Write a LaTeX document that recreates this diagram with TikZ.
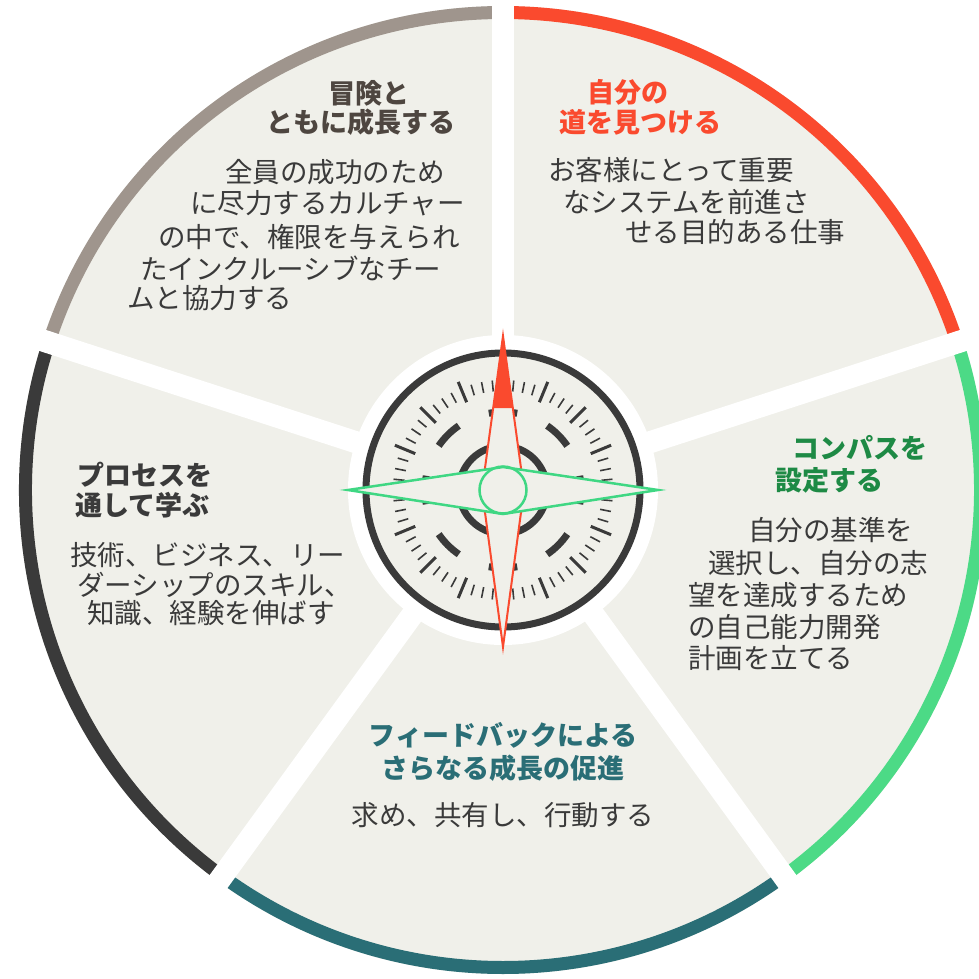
\documentclass[tikz,border=0pt]{standalone}
\usepackage{fontspec}
\setmainfont{Noto Sans CJK JP}
\usepackage{tikz}
\usetikzlibrary{positioning}

\definecolor{paper}{HTML}{F0F0EA}
\definecolor{ink}{HTML}{3A3A3A}
\definecolor{segred}{HTML}{FA4A2E}
\definecolor{seggreen}{HTML}{4CDA86}
\definecolor{segteal}{HTML}{2A6E76}
\definecolor{segdark}{HTML}{3A3A3A}
\definecolor{seggrey}{HTML}{9F958D}
\definecolor{titlegreen}{HTML}{1E8A45}
\definecolor{titlegrey}{HTML}{4E4640}
\definecolor{needlegreen}{HTML}{3FD783}

\begin{document}
\begin{tikzpicture}[x=1pt,y=1pt,
	band/.style={line width=13pt},
	gap/.style={white, line width=22pt},
	heading/.style={anchor=west, inner sep=0pt, font=\fontsize{27}{30}\selectfont\bfseries},
	body/.style={anchor=west, inner sep=0pt, text=ink, font=\fontsize{27.5}{31}\selectfont},
	minortick/.style={ink, line width=1.6pt},
	majortick/.style={ink, line width=3pt},
	dialdash/.style={ink, line width=7pt}]
	\useasboundingbox (-503,-488) rectangle (476,490);

	% wheel with coloured rims
	\fill[paper] (0,0) circle (484);
	\draw[band, segred] (18:477.5) arc[start angle=18, end angle=90, radius=477.5];
	\draw[band, seggreen] (-54:477.5) arc[start angle=-54, end angle=18, radius=477.5];
	\draw[band, segteal] (-126:477.5) arc[start angle=-126, end angle=-54, radius=477.5];
	\draw[band, segdark] (162:477.5) arc[start angle=162, end angle=234, radius=477.5];
	\draw[band, seggrey] (90:477.5) arc[start angle=90, end angle=162, radius=477.5];
	\foreach \a in {90,18,-54,-126,162}
		\draw[gap] (0,0) -- (\a:500);
	\fill[white] (0,0) circle (155);

	% compass dial
	\filldraw[fill=paper, draw=ink, line width=7pt] (0,0) circle (137);
	\foreach \i in {0,...,63}{
		\pgfmathtruncatemacro\m{mod(\i,4)}
		\ifnum\m=0
			\draw[majortick] ({\i*5.625}:95) -- ({\i*5.625}:117);
		\else
			\draw[minortick] ({\i*5.625}:99) -- ({\i*5.625}:110);
		\fi
	}
	\foreach \a in {0,45,...,315}
		\draw[dialdash] ({\a-10.5}:78) arc[start angle=\a-10.5, end angle=\a+10.5, radius=78];
	\draw[ink, line width=7pt] (0,0) circle (44);

	% needles
	\filldraw[fill=paper, draw=segred, line width=2pt] (0,154) -- (21,0) -- (0,-157) -- (-21,0) -- cycle;
	\fill[segred] (0,154) -- (10,82) -- (-10,82) -- cycle;
	\filldraw[fill=paper, draw=needlegreen, line width=2.5pt] (-155,0) -- (0,23) -- (155,0) -- (0,-24) -- cycle;
	\draw[needlegreen, line width=2.5pt] (0,0) circle (23.5);

	% top left
	\node[heading, text=titlegrey] (adv1) at (-175,397) {冒険と};
	\node[heading, text=titlegrey] (adv2) at (-237,368) {ともに成長する};
	\foreach \x/\y/\t [count=\i] in {-278/318/全員の成功のため, -313/287/に尽力するカルチャー,
			-345/253/の中で、権限を与えられ, -363/222/たインクルーシブなチー, -376/192/ムと協力する}
		\node[body] (advtext\i) at (\x,\y) {\t};

	% top right
	\node[heading, text=segred] (path1) at (84,398) {自分の};
	\node[heading, text=segred] (path2) at (56,368) {道を見つける};
	\foreach \x/\y/\t [count=\i] in {45/320/お客様にとって重要, 60/288/なシステムを前進さ,
			122/258/せる目的ある仕事}
		\node[body] (pathtext\i) at (\x,\y) {\t};

	% right
	\node[heading, text=titlegreen] (set1) at (289,42) {コンパスを};
	\node[heading, text=titlegreen] (set2) at (272,10) {設定する};
	\foreach \x/\y/\t [count=\i] in {245/-40/自分の基準を, 205/-73/選択し、自分の志,
			185/-105/望を達成するため, 185/-137/の自己能力開発, 185/-168/計画を立てる}
		\node[body] (settext\i) at (\x,\y) {\t};

	% left
	\node[heading, text=ink] (learn1) at (-426,15) {プロセスを};
	\node[heading, text=ink] (learn2) at (-428,-15) {通して学ぶ};
	\foreach \x/\y/\t [count=\i] in {-433/-65/技術、ビジネス、リー, -426/-95/ダーシップのスキル、,
			-416/-123/知識、経験を伸ばす}
		\node[body] (learntext\i) at (\x,\y) {\t};

	% bottom
	\node[heading, anchor=center, text=segteal] (grow1) at (0,-245) {フィードバックによる};
	\node[heading, anchor=center, text=segteal] (grow2) at (0,-278) {さらなる成長の促進};
	\node[body, anchor=center] (growtext) at (0,-325) {求め、共有し、行動する};
\end{tikzpicture}
\end{document}
